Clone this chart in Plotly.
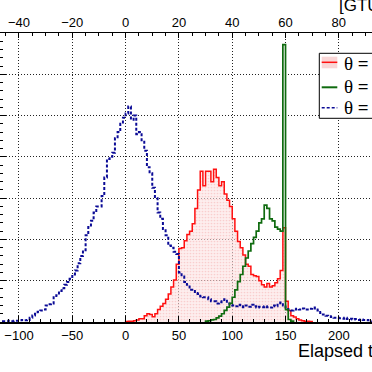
import plotly.graph_objects as go

# ---------------- data (bin width 2.5 us = 1 GTU) ----------------
BIN = 2.5
US_PER_GTU = 2.5

red_start = 0.0
red_values = [0.01, 0.02, 0.02, 0.03, 0.05, 0.08, 0.08, 0.15, 0.20, 0.18,
              0.13, 0.20, 0.30, 0.38, 0.45, 0.55, 0.68, 0.85, 1.02, 1.40,
              1.78, 1.80, 1.97, 2.12, 2.20, 2.38, 2.75, 3.20, 3.65, 3.30,
              3.65, 3.65, 3.40, 3.70, 3.50, 3.30, 3.40, 3.10, 2.95, 2.80,
              2.50, 2.20, 1.95, 1.80, 1.62, 1.40, 1.35, 1.15, 1.12, 1.10,
              1.00, 0.90, 0.85, 0.93, 0.85, 0.88, 0.95, 1.05, 1.25, 2.28,
              0.50, 0.28, 0.15, 0.12, 0.08, 0.05, 0.03, 0.02, 0.02, 0.01]

green_start = 75.0
green_values = [0.02, 0.03, 0.05, 0.06, 0.10, 0.14, 0.20, 0.28, 0.36, 0.45,
                0.60, 0.78, 0.98, 1.15, 1.35, 1.55, 1.72, 1.90, 2.05, 2.20,
                2.40, 2.50, 2.83, 2.75, 2.50, 2.45, 2.30, 2.25, 2.20, 6.72,
                0.30, 0.06, 0.02]

blue_start = -115.0
blue_values = [0.02, 0.02, 0.03, 0.02, 0.03, 0.03, 0.04, 0.05, 0.04, 0.05,
               0.10, 0.16, 0.20, 0.25, 0.28, 0.30, 0.40, 0.43, 0.45, 0.60,
               0.65, 0.75, 0.82, 0.90, 0.97, 1.05, 1.15, 1.25, 1.42, 1.60,
               1.74, 2.10, 2.30, 2.45, 2.65, 2.80, 2.80, 3.05, 3.50, 3.95,
               4.00, 4.10, 4.45, 4.60, 4.80, 4.95, 5.05, 5.22, 4.90, 5.00,
               4.55, 4.60, 4.40, 4.15, 3.75, 3.60, 3.25, 3.00, 2.65, 2.50,
               2.25, 2.10, 1.85, 1.80, 1.70, 1.65, 1.20, 1.10, 0.97, 0.90,
               0.78, 0.75, 0.70, 0.68, 0.62, 0.60, 0.60, 0.55, 0.50, 0.50,
               0.45, 0.48, 0.50, 0.55, 0.45, 0.42, 0.40, 0.38, 0.42, 0.38,
               0.36, 0.40, 0.37, 0.42, 0.38, 0.35, 0.37, 0.36, 0.38, 0.36,
               0.35, 0.40, 0.38, 0.42, 0.47, 0.40, 0.35, 0.30, 0.28, 0.30,
               0.32, 0.30, 0.33, 0.30, 0.30, 0.32, 0.35, 0.30, 0.28, 0.22,
               0.18, 0.15, 0.14, 0.12, 0.10, 0.10, 0.09, 0.08, 0.10, 0.07,
               0.08, 0.06, 0.07, 0.05, 0.06, 0.05, 0.04, 0.05]

bottom_ticks = [-100, -50, 0, 50, 100, 150, 200]
top_ticks = [-40, -20, 0, 20, 40, 60, 80]

X_MIN, X_MAX = -117.8, 231.1
Y_MIN, Y_MAX = 0, 7

W, H = 372, 372
ML, MR, MT, MB = 0, 0, 33, 50
PH = H - MT - MB


def step_xy(start, values):
    edges = [start + i * BIN for i in range(len(values) + 1)]
    xs = [edges[0]] + edges
    ys = [0] + list(values) + [0]
    return xs, ys


def px(xpix):
    return xpix / W


def py(ypix):
    return (H - MB - ypix) / PH


fig = go.Figure()

rx, ry = step_xy(red_start, red_values)
fig.add_trace(go.Scatter(
    x=rx, y=ry, mode="lines", line=dict(shape="hv", color="#ff1010", width=1.5),
    fill="tozeroy", fillcolor="rgba(250,200,200,0.45)",
    fillpattern=dict(shape=".", fgcolor="rgba(235,120,120,0.55)", bgcolor="rgba(252,226,226,0.6)",
                     size=3, solidity=0.25),
    showlegend=False, hoverinfo="skip"))

bx, by = step_xy(blue_start, blue_values)
fig.add_trace(go.Scatter(
    x=bx, y=by, mode="lines", line=dict(shape="hv", color="#0b0b96", width=2, dash="3px,2px"),
    showlegend=False, hoverinfo="skip"))

gx, gy = step_xy(green_start, green_values)
fig.add_trace(go.Scatter(
    x=gx, y=gy, mode="lines", line=dict(shape="hv", color="#0f6b0f", width=1.7),
    showlegend=False, hoverinfo="skip"))

# dummy trace for top axis
fig.add_trace(go.Scatter(x=[X_MIN / US_PER_GTU], y=[0], xaxis="x2", mode="markers",
                         marker=dict(opacity=0), showlegend=False, hoverinfo="skip"))

tick_font = dict(family="Liberation Sans, Arial", size=13, color="black")
GRID_DASH = "1px,2px"

fig.update_layout(
    width=W, height=H,
    margin=dict(l=ML, r=MR, t=MT, b=MB, autoexpand=False),
    paper_bgcolor="white", plot_bgcolor="white",
    xaxis=dict(range=[X_MIN, X_MAX], tickvals=bottom_ticks, ticks="inside", ticklen=6,
               tickwidth=1, tickcolor="black",
               minor=dict(dtick=10, tick0=0, ticks="inside", ticklen=3, tickcolor="black"),
               showline=True, linecolor="black", linewidth=1.8,
               showgrid=True, gridcolor="#222", griddash=GRID_DASH, gridwidth=1,
               zeroline=False, tickfont=tick_font),
    xaxis2=dict(range=[X_MIN / US_PER_GTU, X_MAX / US_PER_GTU], overlaying="x", side="top",
                tickvals=top_ticks, ticks="inside", ticklen=5, tickcolor="black",
                minor=dict(dtick=5, tick0=0, ticks="inside", ticklen=3, tickcolor="black"),
                showline=True, linecolor="black", linewidth=1,
                showgrid=False, zeroline=False, tickfont=tick_font),
    yaxis=dict(range=[Y_MIN, Y_MAX], dtick=1, ticks="inside", ticklen=6, tickcolor="black",
               minor=dict(dtick=0.2, ticks="inside", ticklen=3, tickcolor="black"),
               showticklabels=False, showline=True, linecolor="black", linewidth=1,
               showgrid=True, gridcolor="#222", griddash=GRID_DASH, gridwidth=1, zeroline=False),
)

# axis titles (cropped in the reference)
fig.add_annotation(x=px(337), y=py(6), xref="paper", yref="paper", text="[GTU]",
                   xanchor="left", yanchor="middle", showarrow=False,
                   font=dict(family="Liberation Sans, Arial", size=17, color="black"))
fig.add_annotation(x=px(295.5), y=py(351), xref="paper", yref="paper", text="Elapsed time [μs]",
                   xanchor="left", yanchor="middle", showarrow=False,
                   font=dict(family="Liberation Sans, Arial", size=18, color="black"))

# legend box (drawn manually, runs off the right edge)
fig.add_shape(type="rect", xref="paper", yref="paper", x0=px(319.3), x1=px(400),
              y0=py(118.3), y1=py(53.3), fillcolor="white", line=dict(color="black", width=1),
              layer="above")
fig.add_shape(type="rect", xref="paper", yref="paper", x0=px(321.7), x1=px(337.3),
              y0=py(68.3), y1=py(56.7), fillcolor="#f9d6d6", line=dict(width=0), layer="above")
fig.add_shape(type="line", xref="paper", yref="paper", x0=px(321.7), x1=px(337.3),
              y0=py(62.3), y1=py(62.3), line=dict(color="#ff1010", width=1.5), layer="above")
fig.add_shape(type="line", xref="paper", yref="paper", x0=px(321.7), x1=px(337.3),
              y0=py(87.3), y1=py(87.3), line=dict(color="#0f6b0f", width=2), layer="above")
fig.add_shape(type="line", xref="paper", yref="paper", x0=px(321.7), x1=px(337.3),
              y0=py(107.7), y1=py(107.7), line=dict(color="#0b0b96", width=1.5, dash="3px,2px"),
              layer="above")
for yy in (63, 86.5, 107.5):
    fig.add_annotation(x=px(341.5), y=py(yy), xref="paper", yref="paper", text="θ <b>=</b> 0°",
                       xanchor="left", yanchor="middle", showarrow=False, height=17,
                       font=dict(family="Liberation Serif, Times New Roman", size=19, color="black"))

fig.write_html("out.html", config={"displayModeBar": False},
               post_script="document.body.style.margin='0px';")
